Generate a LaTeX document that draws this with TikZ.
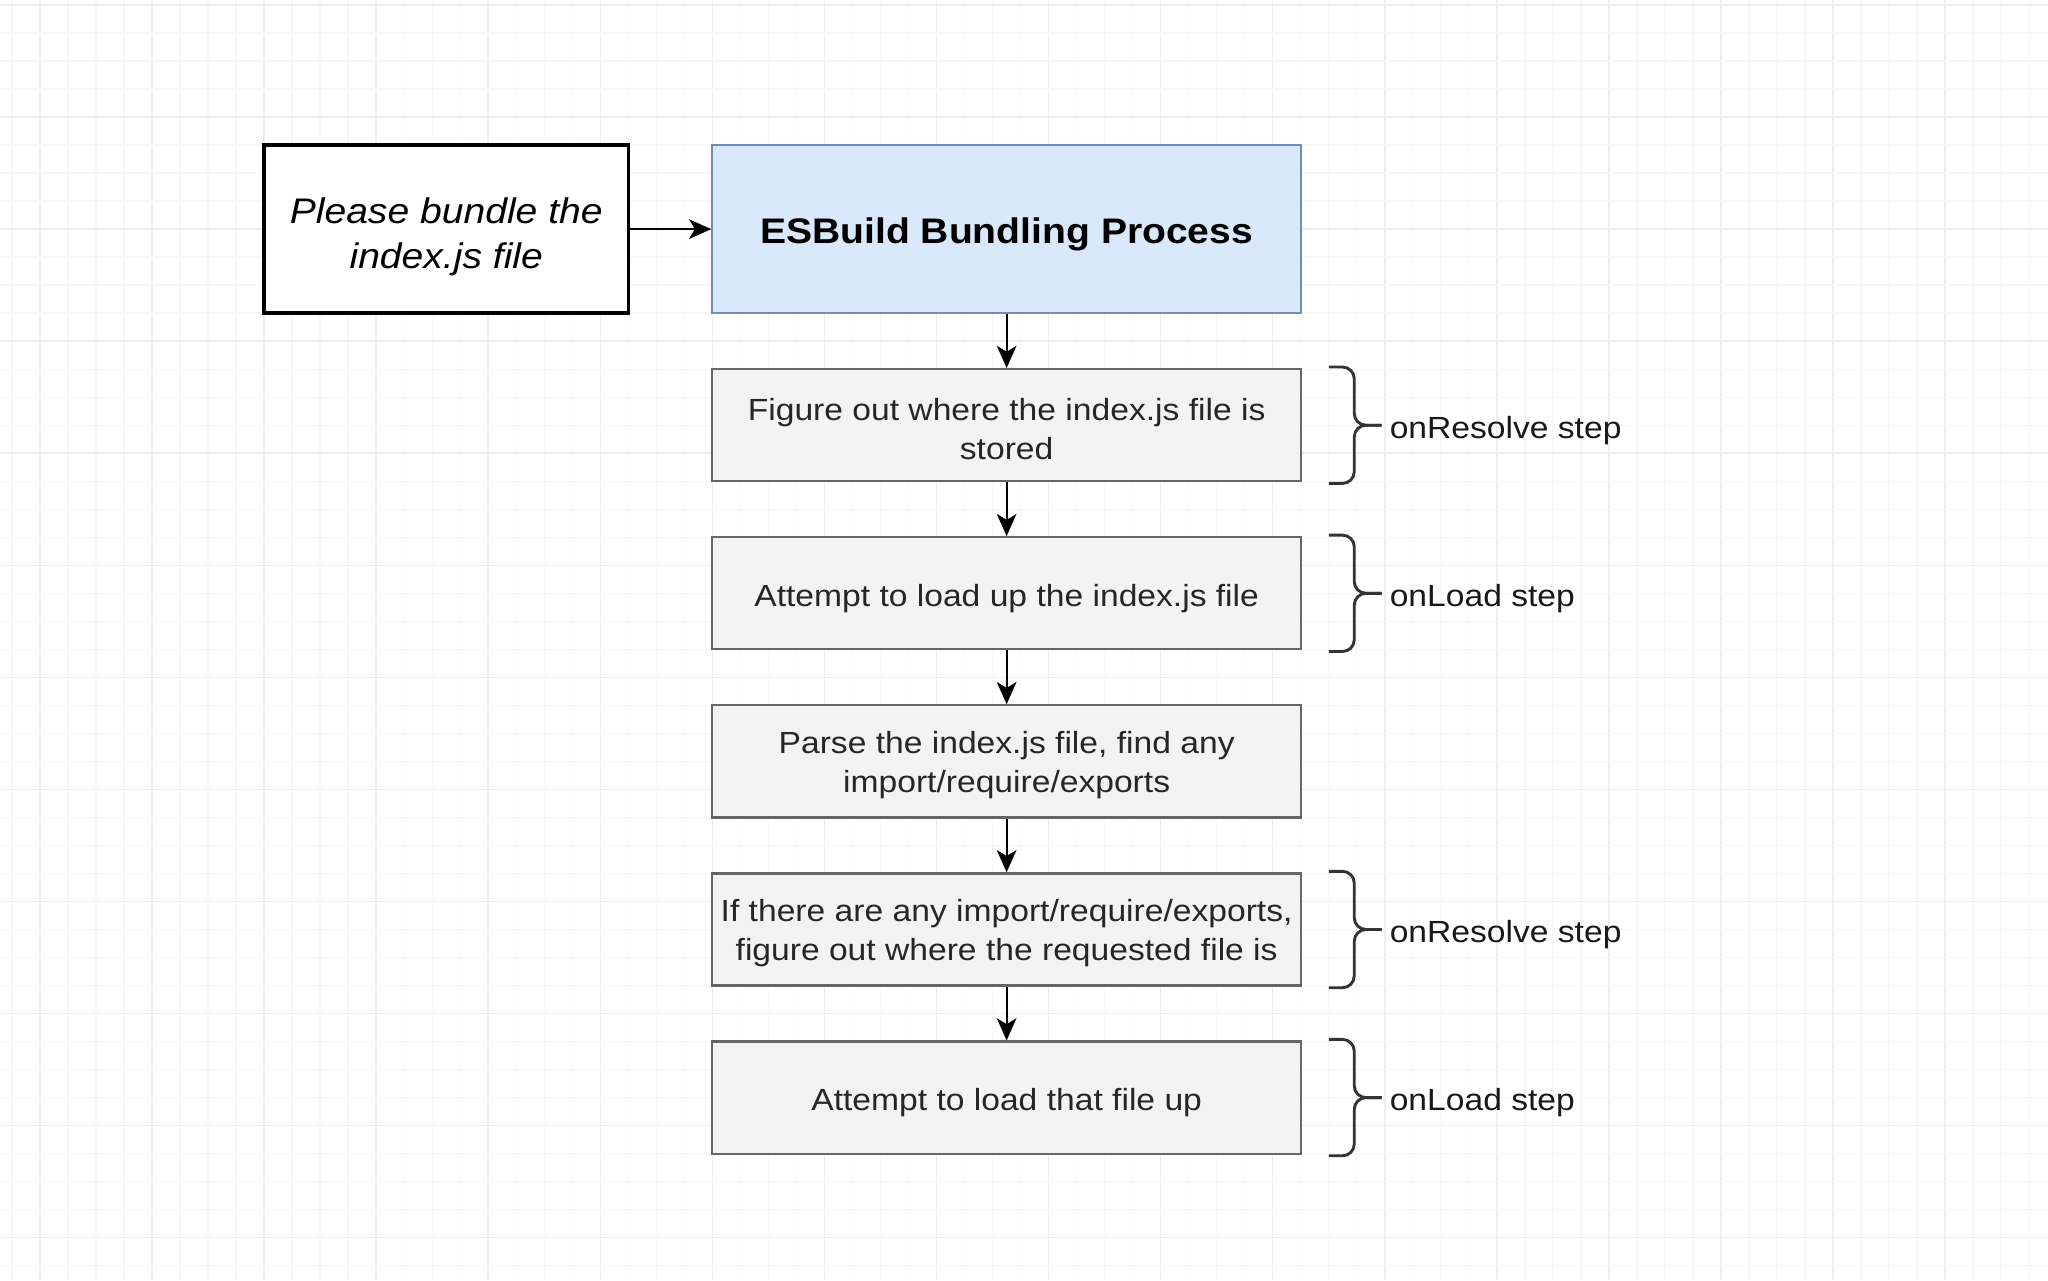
\documentclass[tikz,border=0pt]{standalone}
\usepackage{fontspec}
\setmainfont{Liberation Sans}[FakeStretch=1.1]
\usetikzlibrary{arrows.meta}
\definecolor{gridminor}{HTML}{F7F7F7}
\definecolor{gridmajor}{HTML}{EEEEEE}
\definecolor{bluefill}{HTML}{DAE8FC}
\definecolor{blueline}{HTML}{6C8EBF}
\definecolor{grayfill}{HTML}{F3F3F3}
\definecolor{grayline}{HTML}{666666}
\definecolor{txtgray}{HTML}{262626}
\definecolor{bracecol}{HTML}{333333}
\begin{document}
\begin{tikzpicture}[x=1pt,y=-1pt,
  stepbox/.style={draw=grayline, fill=grayfill, line width=1.7pt,
    minimum width=450.6pt, minimum height=85.8pt, inner sep=0pt},
  steptext/.style={inner sep=0pt, align=center, text=txtgray,
    font=\fontsize{23.4}{30}\selectfont},
  flow/.style={-{Stealth[length=17pt,width=15pt,inset=4.5pt]}, line width=1.7pt, black},
  bracepath/.style={draw=bracecol, line width=2.2pt, rounded corners=9pt},
  steplabel/.style={anchor=base west, inner sep=0pt,
    font=\fontsize{23.4}{30}\selectfont, text=black!90}]
% canvas
\useasboundingbox (0,0) rectangle (1568,980);
\fill[white] (0,0) rectangle (1568,980);
% grid
\foreach \i in {0,...,73}{
  \pgfmathsetmacro{\gx}{9.15+21.45*\i}
  \pgfmathtruncatemacro{\m}{mod(\i-1+400,4)}
  \ifnum\m=0
    \draw[gridmajor, line width=1.2pt] (\gx,0) -- (\gx,980);
  \else
    \draw[gridminor, line width=1pt] (\gx,0) -- (\gx,980);
  \fi
}
\foreach \k in {0,...,45}{
  \pgfmathsetmacro{\gy}{3.8+21.45*\k}
  \pgfmathtruncatemacro{\m}{mod(\k,4)}
  \ifnum\m=0
    \draw[gridmajor, line width=1.2pt] (0,\gy) -- (1568,\gy);
  \else
    \draw[gridminor, line width=1pt] (0,\gy) -- (1568,\gy);
  \fi
}
% top boxes
\node[draw=black, fill=white, line width=2.6pt, minimum width=278.9pt,
  minimum height=128.7pt, inner sep=0pt] (req) at (341.65,175.4) {};
\node[inner sep=0pt, align=center, font=\fontsize{27.2}{34}\selectfont\itshape]
  (reqt) at ([yshift=-6pt]req.center) {Please bundle the\\index.js file};
\node[draw=blueline, fill=bluefill, line width=1.7pt, minimum width=450.6pt,
  minimum height=128.7pt, inner sep=0pt] (esb) at (770.7,175.4) {};
\node[inner sep=0pt, font=\fontsize{27.2}{34}\selectfont\bfseries]
  (esbt) at ([yshift=-4pt]esb.center) {ESBuild Bundling Process};
% steps
\node[stepbox] (s1) at (770.7,325.55) {};
\node[stepbox] (s2) at (770.7,454.25) {};
\node[stepbox] (s3) at (770.7,582.95) {};
\node[stepbox] (s4) at (770.7,711.65) {};
\node[stepbox] (s5) at (770.7,840.35) {};
\node[steptext] (s1t) at ([yshift=-3pt]s1.center) {Figure out where the index.js file is\\stored};
\node[steptext] (s2t) at ([yshift=-4pt]s2.center) {Attempt to load up the index.js file};
\node[steptext] (s3t) at ([yshift=-3pt]s3.center) {Parse the index.js file, find any\\import/require/exports};
\node[steptext] (s4t) at ([yshift=-3pt]s4.center) {If there are any import/require/exports,\\figure out where the requested file is};
\node[steptext] (s5t) at ([yshift=-4pt]s5.center) {Attempt to load that file up};
% connectors
\draw[flow] (req.east) -- (esb.west);
\draw[flow] (esb.south) -- (s1.north);
\draw[flow] (s1.south) -- (s2.north);
\draw[flow] (s2.south) -- (s3.north);
\draw[flow] (s3.south) -- (s4.north);
\draw[flow] (s4.south) -- (s5.north);
% braces and labels
\foreach \b/\t in {s1/onResolve step, s2/onLoad step, s4/onResolve step, s5/onLoad step}{
  \draw[bracepath] ([xshift=20.5pt,yshift=0.8pt]\b.north east) -| ([xshift=40pt]\b.east) -- ([xshift=61pt]\b.east);
  \draw[bracepath] ([xshift=20.5pt,yshift=-0.8pt]\b.south east) -| ([xshift=40pt]\b.east) -- ([xshift=61pt]\b.east);
  \node[steplabel] (\b lab) at ([xshift=67pt,yshift=-10pt]\b.east) {\t};
}
\end{tikzpicture}
\end{document}
